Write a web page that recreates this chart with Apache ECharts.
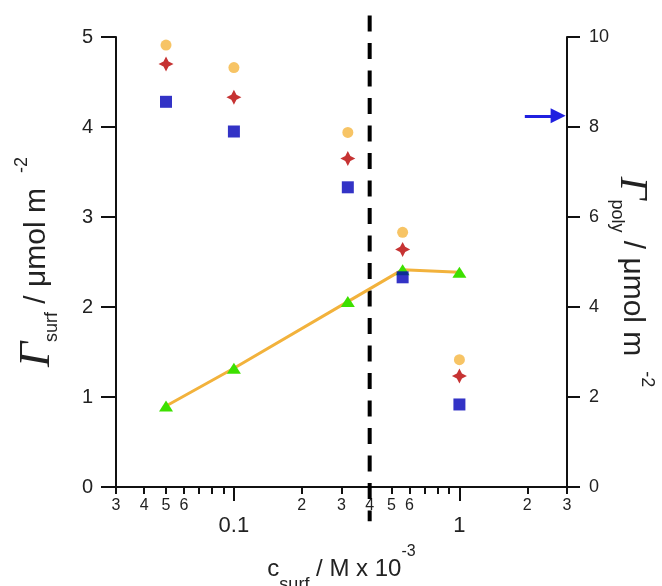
<!DOCTYPE html>
<html>
<head>
<meta charset="utf-8">
<script src="https://cdn.jsdelivr.net/npm/echarts@6.0.0/dist/echarts.min.js"></script>
<style>
html,body{margin:0;padding:0;background:#fff;}
#chart{width:662px;height:586px;}
</style>
</head>
<body>
<div id="chart"></div>
<script>
// ---- data ----
const conc = [0.05, 0.1, 0.32, 0.56, 1];
const circleVals = [4.91, 4.66, 3.94, 2.83, 1.415];
const starVals = [4.70, 4.33, 3.65, 2.64, 1.234];
const squareVals = [4.28, 3.95, 3.33, 2.33, 0.917];
const triangleVals = [1.80, 2.64, 4.12, 4.83, 4.77];
const dashedX = 0.4;
const dashedYRange = [5.24, -0.38];
const arrowXRange = [1.95, 2.74];
const arrowY = 8.25;
const minorTickVals = [0.03, 0.04, 0.05, 0.06, 0.07, 0.08, 0.09, 0.2, 0.3, 0.4, 0.5, 0.6, 0.7, 0.8, 0.9, 2, 3];
const digitLabelVals = [0.03, 0.04, 0.05, 0.06, 0.2, 0.3, 0.4, 0.5, 0.6, 2, 3];
const decadeVals = [0.1, 1];

const FONT = 'Liberation Sans';
const TXT = '#222';
const chart = echarts.init(document.getElementById('chart'), null, {renderer: 'canvas'});

function pair(xs, ys) { return xs.map((x, i) => [x, ys[i]]); }
function firstDigit(v) {
  const p = Math.pow(10, Math.floor(Math.log10(v) + 1e-9));
  return String(Math.round(v / p));
}

const starPath = 'path://M0,-10 L3.4,-3.4 L10,0 L3.4,3.4 L0,10 L-3.4,3.4 L-10,0 L-3.4,-3.4 Z';

function sideTitleRich(gSize) {
  return {
    g: {fontSize: gSize, fontFamily: 'Liberation Serif', fontStyle: 'italic', color: TXT, lineHeight: 48, verticalAlign: 'middle'},
    t: {fontSize: 30, fontFamily: FONT, color: TXT, lineHeight: 48, verticalAlign: 'middle'},
    sub: {fontSize: 18, fontFamily: FONT, color: TXT, lineHeight: 32, verticalAlign: 'bottom'},
    sup: {fontSize: 18, fontFamily: FONT, color: TXT, lineHeight: 28, verticalAlign: 'top'}
  };
}

const option = {
  animation: false,
  backgroundColor: '#fff',
  grid: {left: 116, right: 95, top: 37, bottom: 99, containLabel: false, outerBoundsMode: 'none'},
  xAxis: [
    {
      type: 'log', logBase: 10, min: 0.03, max: 3, position: 'bottom',
      axisLine: {show: true, onZero: false, lineStyle: {color: '#111', width: 2}},
      axisTick: {show: true, length: 7, lineStyle: {color: '#111', width: 2}, customValues: minorTickVals},
      minorTick: {show: false},
      splitLine: {show: false},
      axisLabel: {show: true, customValues: digitLabelVals, formatter: v => firstDigit(v),
        fontSize: 16, fontFamily: FONT, color: TXT, margin: 11},
      name: '{t|c}{sub|surf}{t| / M x 10}{sup|-3}',
      nameLocation: 'middle', nameGap: 57,
      nameTextStyle: {
        fontFamily: FONT, color: TXT,
        rich: {
          t: {fontSize: 24, fontFamily: FONT, color: TXT, lineHeight: 50, verticalAlign: 'middle'},
          sub: {fontSize: 18, fontFamily: FONT, color: TXT, lineHeight: 44, verticalAlign: 'bottom'},
          sup: {fontSize: 16, fontFamily: FONT, color: TXT, lineHeight: 22, verticalAlign: 'top'}
        }
      }
    },
    {
      type: 'log', logBase: 10, min: 0.03, max: 3, position: 'bottom',
      axisLine: {show: false, onZero: false},
      axisTick: {show: true, length: 14, lineStyle: {color: '#111', width: 2}, customValues: decadeVals},
      minorTick: {show: false},
      splitLine: {show: false},
      axisLabel: {show: true, customValues: decadeVals, formatter: v => String(+v.toPrecision(3)),
        fontSize: 22, fontFamily: FONT, color: TXT, margin: 28}
    }
  ],
  yAxis: [
    {
      type: 'value', min: 0, max: 5, interval: 1, position: 'left',
      axisLine: {show: true, onZero: false, lineStyle: {color: '#111', width: 2}},
      axisTick: {show: true, length: 15, lineStyle: {color: '#111', width: 2}},
      splitLine: {show: false},
      axisLabel: {fontSize: 20, fontFamily: FONT, color: TXT, margin: 23},
      name: '{g|Γ}{sub|surf}{t| / μmol m}{sup|   -2}',
      nameLocation: 'middle', nameGap: 55, nameRotate: 90,
      nameTextStyle: {fontFamily: FONT, color: TXT, rich: sideTitleRich(44)}
    },
    {
      type: 'value', min: 0, max: 10, interval: 2, position: 'right',
      axisLine: {show: true, onZero: false, lineStyle: {color: '#111', width: 2}},
      axisTick: {show: true, length: 13, lineStyle: {color: '#111', width: 2}},
      splitLine: {show: false},
      axisLabel: {fontSize: 18, fontFamily: FONT, color: TXT, margin: 22},
      name: '{g|Γ}{sub|poly}{t| / μmol m}{sup|   -2}',
      nameLocation: 'middle', nameGap: 41, nameRotate: -90, nameMoveOverlap: false,
      nameTextStyle: {fontFamily: FONT, color: TXT, padding: [0, 0, 0, 40], rich: sideTitleRich(40)}
    }
  ],
  series: [
    {
      name: 'dashed', type: 'line', xAxisIndex: 0, yAxisIndex: 0, clip: false,
      data: dashedYRange.map(y => [dashedX, y]),
      showSymbol: false, symbol: 'none', silent: true, z: 1,
      lineStyle: {color: '#000', width: 4, type: [16, 11.5]}
    },
    {
      name: 'circle', type: 'scatter', xAxisIndex: 0, yAxisIndex: 0,
      data: pair(conc, circleVals), symbol: 'circle', symbolSize: 11,
      itemStyle: {color: '#F5B53E'}, z: 3
    },
    {
      name: 'star', type: 'scatter', xAxisIndex: 0, yAxisIndex: 0,
      data: pair(conc, starVals), symbol: starPath, symbolSize: 15,
      itemStyle: {color: '#B80000'}, z: 3
    },
    {
      name: 'square', type: 'scatter', xAxisIndex: 0, yAxisIndex: 0,
      data: pair(conc, squareVals), symbol: 'rect', symbolSize: 12,
      itemStyle: {color: '#0000B8'}, z: 3
    },
    {
      name: 'poly', type: 'line', xAxisIndex: 0, yAxisIndex: 1,
      data: pair(conc, triangleVals), symbol: 'triangle', symbolSize: [14, 11], showSymbol: true,
      lineStyle: {color: '#F2B23C', width: 3}, itemStyle: {color: '#3DE000'}, z: 2
    },
    {
      name: 'arrow', type: 'lines', coordinateSystem: 'cartesian2d', xAxisIndex: 0, yAxisIndex: 1,
      polyline: false, silent: true,
      symbol: ['none', 'triangle'], symbolSize: [11, 15],
      lineStyle: {color: '#2020E0', width: 3, opacity: 1, curveness: 0},
      data: [{coords: arrowXRange.map(x => [x, arrowY])}], z: 4
    }
  ]
};
chart.setOption(option);
</script>
</body>
</html>
